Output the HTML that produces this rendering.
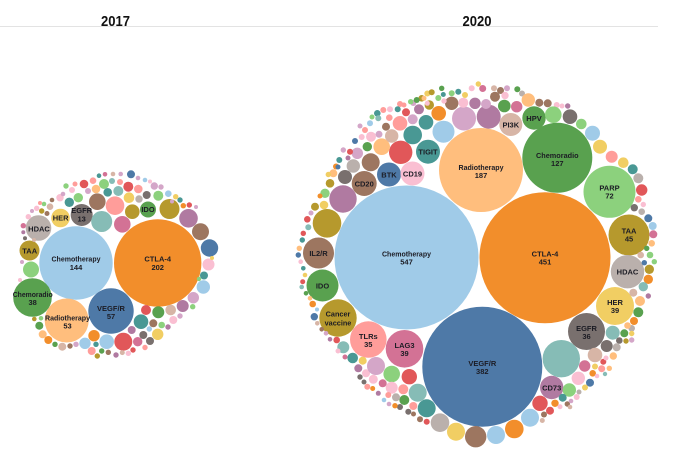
<!DOCTYPE html>
<html>
<head>
<meta charset="utf-8">
<style>
html,body{margin:0;padding:0;background:#fff;}
svg{display:block;}
.h{font-family:"Liberation Sans",Arial,sans-serif;font-weight:bold;font-size:15px;fill:#111;text-anchor:middle;}
.l{font-family:"Liberation Sans",Arial,sans-serif;font-weight:bold;font-size:7.5px;fill:#1c1c24;text-anchor:middle;}
</style>
</head>
<body>
<svg width="673" height="453" viewBox="0 0 673 453" xmlns="http://www.w3.org/2000/svg">
<rect width="673" height="453" fill="#fff"/>
<line x1="0" y1="26.5" x2="658" y2="26.5" stroke="#e3e3e3" stroke-width="1"/>
<text class="h" x="115.5" y="26" textLength="29" lengthAdjust="spacingAndGlyphs">2017</text>
<text class="h" x="477" y="26" textLength="29" lengthAdjust="spacingAndGlyphs">2020</text>

<!-- ================= 2017 ================= -->
<g>
<circle cx="76" cy="263" r="36.7" fill="#a0cbe8"/>
<circle cx="157.7" cy="263" r="43.7" fill="#f28e2b"/>
<circle cx="111" cy="311" r="22.7" fill="#4e79a7"/>
<circle cx="66.7" cy="320.5" r="22" fill="#ffbe7d"/>
<circle cx="32.5" cy="297.5" r="19.3" fill="#59a14f"/>
<circle cx="29.5" cy="250.5" r="10" fill="#b6992d"/>
<circle cx="38.5" cy="228" r="12.8" fill="#bab0ac"/>
<circle cx="60.5" cy="218" r="9.3" fill="#f1ce63"/>
<circle cx="81.7" cy="215" r="11" fill="#79706e"/>
<circle cx="148" cy="209.5" r="8" fill="#59a14f"/>
<circle cx="31" cy="269.5" r="8" fill="#8cd17d"/>
<circle cx="101.7" cy="221.5" r="10.5" fill="#86bcb6"/>
<circle cx="122.3" cy="224.3" r="8.3" fill="#d37295"/>
<circle cx="115" cy="205.7" r="9.3" fill="#ff9d9a"/>
<circle cx="97.3" cy="201.7" r="8.3" fill="#9d7660"/>
<circle cx="132.3" cy="211.7" r="7.3" fill="#b6992d"/>
<circle cx="169.5" cy="209" r="10" fill="#b6992d"/>
<circle cx="188.5" cy="218.3" r="9.3" fill="#b07aa1"/>
<circle cx="200.5" cy="231.7" r="8.5" fill="#9d7660"/>
<circle cx="209.5" cy="248" r="8.7" fill="#4e79a7"/>
<circle cx="208.5" cy="264.5" r="6" fill="#fabfd2"/>
<circle cx="204" cy="275.5" r="4" fill="#499894"/>
<circle cx="203.3" cy="287" r="6.7" fill="#a0cbe8"/>
<circle cx="193.3" cy="297.7" r="5.7" fill="#d4a6c8"/>
<circle cx="182.7" cy="306" r="6" fill="#b07aa1"/>
<circle cx="192.7" cy="306.7" r="2.7" fill="#8cd17d"/>
<circle cx="170.7" cy="310" r="5.3" fill="#d7b5a6"/>
<circle cx="158.3" cy="312.3" r="6" fill="#59a14f"/>
<circle cx="146" cy="310" r="5" fill="#e15759"/>
<circle cx="141" cy="321.7" r="7.3" fill="#499894"/>
<circle cx="153.3" cy="323.3" r="4" fill="#9d7660"/>
<circle cx="161.7" cy="325" r="3.3" fill="#8cd17d"/>
<circle cx="173.3" cy="320" r="4" fill="#fabfd2"/>
<circle cx="168" cy="327" r="2.7" fill="#b07aa1"/>
<circle cx="180" cy="316" r="2.7" fill="#d4a6c8"/>
<circle cx="149.3" cy="329" r="2.7" fill="#a0cbe8"/>
<circle cx="131.7" cy="330" r="4" fill="#b07aa1"/>
<circle cx="143.3" cy="335" r="4" fill="#79706e"/>
<circle cx="157.7" cy="334.3" r="5.7" fill="#f1ce63"/>
<circle cx="123.3" cy="341.7" r="9" fill="#e15759"/>
<circle cx="137.7" cy="341.7" r="4.7" fill="#d37295"/>
<circle cx="150" cy="341" r="4" fill="#79706e"/>
<circle cx="145" cy="347.5" r="2.7" fill="#ff9d9a"/>
<circle cx="106.7" cy="341.7" r="7.3" fill="#a0cbe8"/>
<circle cx="94" cy="335.7" r="5.7" fill="#f28e2b"/>
<circle cx="85" cy="343.3" r="5.7" fill="#a0cbe8"/>
<circle cx="96" cy="344.3" r="2.7" fill="#499894"/>
<circle cx="62.3" cy="346.7" r="4" fill="#d7b5a6"/>
<circle cx="70" cy="346" r="2.7" fill="#9d7660"/>
<circle cx="76" cy="344.3" r="2.7" fill="#d4a6c8"/>
<circle cx="55" cy="344.3" r="2.7" fill="#59a14f"/>
<circle cx="48.3" cy="340" r="4" fill="#f28e2b"/>
<circle cx="42.7" cy="334.3" r="4" fill="#ffbe7d"/>
<circle cx="39.3" cy="325.7" r="4" fill="#59a14f"/>
<circle cx="34.3" cy="319" r="2.3" fill="#b6992d"/>
<circle cx="41" cy="318.3" r="2.3" fill="#8cd17d"/>
<circle cx="91.7" cy="351" r="4" fill="#ff9d9a"/>
<circle cx="101.7" cy="351" r="2.7" fill="#59a14f"/>
<circle cx="108.3" cy="352.3" r="2.7" fill="#9d7660"/>
<circle cx="116" cy="355" r="2.7" fill="#b07aa1"/>
<circle cx="97.3" cy="356" r="2.7" fill="#b6992d"/>
<circle cx="128.3" cy="353.3" r="2.7" fill="#fabfd2"/>
<circle cx="122.3" cy="352.6" r="2.5" fill="#d7b5a6"/>
<circle cx="133" cy="350" r="2.7" fill="#e15759"/>
<!-- top -->
<circle cx="84" cy="184" r="4.3" fill="#e15759"/>
<circle cx="93" cy="180.7" r="3.3" fill="#ff9d9a"/>
<circle cx="104" cy="184" r="5" fill="#8cd17d"/>
<circle cx="118.3" cy="191" r="5" fill="#86bcb6"/>
<circle cx="128.3" cy="186.7" r="5" fill="#e15759"/>
<circle cx="138.3" cy="189" r="4.3" fill="#ff9d9a"/>
<circle cx="154.3" cy="186" r="3.7" fill="#d4a6c8"/>
<circle cx="161" cy="187" r="2.7" fill="#d4a6c8"/>
<circle cx="168.3" cy="193.7" r="3.3" fill="#a0cbe8"/>
<circle cx="158.3" cy="195.7" r="5" fill="#8cd17d"/>
<circle cx="146.7" cy="195" r="4" fill="#79706e"/>
<circle cx="96" cy="189" r="4.3" fill="#ffbe7d"/>
<circle cx="107.7" cy="192.3" r="4.3" fill="#499894"/>
<circle cx="129" cy="197.7" r="5.3" fill="#f1ce63"/>
<circle cx="139" cy="199" r="3.7" fill="#bab0ac"/>
<circle cx="180" cy="200" r="2.7" fill="#499894"/>
<circle cx="183.3" cy="205.7" r="2.7" fill="#f28e2b"/>
<circle cx="189.3" cy="205" r="2.7" fill="#e15759"/>
<circle cx="175.7" cy="196.7" r="2.7" fill="#f1ce63"/>
<circle cx="69.3" cy="202.3" r="4.7" fill="#499894"/>
<circle cx="78.3" cy="197.7" r="4.7" fill="#8cd17d"/>
<circle cx="60" cy="197.7" r="3.7" fill="#fabfd2"/>
<circle cx="50" cy="206.7" r="3.3" fill="#d7b5a6"/>
<circle cx="41.7" cy="211" r="2.7" fill="#b6992d"/>
<circle cx="47" cy="213.5" r="2.5" fill="#9d7660"/>
<circle cx="36.7" cy="208.3" r="2.7" fill="#fabfd2"/>
<circle cx="28.3" cy="216.7" r="2.7" fill="#fabfd2"/>
<circle cx="23.3" cy="225.7" r="2.7" fill="#d37295"/>
<circle cx="23.3" cy="232.3" r="2" fill="#b07aa1"/>
<circle cx="25" cy="238.3" r="2" fill="#79706e"/>
<circle cx="131" cy="174.3" r="4" fill="#4e79a7"/>
<circle cx="99" cy="175.7" r="2.3" fill="#499894"/>
<circle cx="105" cy="174.3" r="2.3" fill="#d37295"/>
<circle cx="113" cy="174" r="2.3" fill="#d7b5a6"/>
<circle cx="120.7" cy="174" r="2.3" fill="#d4a6c8"/>
<circle cx="138" cy="178" r="2.3" fill="#d4a6c8"/>
<circle cx="145" cy="180" r="2.3" fill="#a0cbe8"/>
<circle cx="150" cy="181.5" r="2" fill="#fabfd2"/>
<circle cx="112" cy="181" r="3" fill="#86bcb6"/>
<circle cx="120" cy="182" r="3" fill="#ff9d9a"/>
<circle cx="66" cy="186" r="2.7" fill="#8cd17d"/>
<circle cx="72" cy="190" r="3" fill="#fabfd2"/>
<circle cx="63" cy="194" r="2.3" fill="#d4a6c8"/>
<circle cx="88" cy="191" r="3" fill="#d4a6c8"/>
<circle cx="75" cy="184" r="2.5" fill="#ff9d9a"/>
<circle cx="52" cy="200" r="2.3" fill="#9d7660"/>
<circle cx="44" cy="204" r="2.3" fill="#8cd17d"/>
<circle cx="32" cy="211" r="2" fill="#d4a6c8"/>
<circle cx="40" cy="203" r="2" fill="#ff9d9a"/>
<circle cx="172" cy="201.5" r="2" fill="#d4a6c8"/>
<circle cx="196" cy="207" r="2" fill="#d4a6c8"/>
<circle cx="212" cy="258" r="2" fill="#f1ce63"/>
<circle cx="199" cy="279" r="2.2" fill="#8cd17d"/>
<circle cx="34" cy="240" r="2" fill="#d7b5a6"/>
<circle cx="22" cy="262" r="2" fill="#d4a6c8"/>
<circle cx="20" cy="280" r="2" fill="#fabfd2"/>
</g>
<g>
<text class="l" x="76" y="261.7" textLength="49" lengthAdjust="spacingAndGlyphs">Chemotherapy</text>
<text class="l" x="76" y="270">144</text>
<text class="l" x="157.7" y="261.7">CTLA-4</text>
<text class="l" x="157.7" y="270">202</text>
<text class="l" x="111" y="311">VEGF/R</text>
<text class="l" x="111" y="319">57</text>
<text class="l" x="67.5" y="320.6" textLength="45" lengthAdjust="spacingAndGlyphs">Radiotherapy</text>
<text class="l" x="67.5" y="328.6">53</text>
<text class="l" x="32.7" y="297" textLength="40" lengthAdjust="spacingAndGlyphs">Chemoradio</text>
<text class="l" x="32.7" y="305">38</text>
<text class="l" x="29.7" y="253.5">TAA</text>
<text class="l" x="39" y="231.3">HDAC</text>
<text class="l" x="60.7" y="220.7">HER</text>
<text class="l" x="81.7" y="213">EGFR</text>
<text class="l" x="81.7" y="221.3">13</text>
<text class="l" x="148" y="212">IDO</text>
</g>

<!-- ================= 2020 ================= -->
<g>
<circle cx="406.5" cy="257.5" r="72" fill="#a0cbe8"/>
<circle cx="545" cy="257.7" r="65.5" fill="#f28e2b"/>
<circle cx="482.3" cy="366.7" r="60" fill="#4e79a7"/>
<circle cx="481" cy="170" r="42" fill="#ffbe7d"/>
<circle cx="557.3" cy="157.8" r="35" fill="#59a14f"/>
<circle cx="609.5" cy="191.8" r="26" fill="#8cd17d"/>
<circle cx="629" cy="235" r="20.5" fill="#b6992d"/>
<circle cx="627.5" cy="271.7" r="16.7" fill="#bab0ac"/>
<circle cx="615" cy="306" r="19" fill="#f1ce63"/>
<circle cx="586.5" cy="331.5" r="18.5" fill="#79706e"/>
<circle cx="561.3" cy="358.7" r="18.7" fill="#86bcb6"/>
<circle cx="551.7" cy="387.5" r="11.7" fill="#b07aa1"/>
<circle cx="404.5" cy="348.8" r="18.8" fill="#d37295"/>
<circle cx="368.3" cy="339.5" r="18.3" fill="#ff9d9a"/>
<circle cx="338" cy="318" r="18.7" fill="#b6992d"/>
<circle cx="322.5" cy="285.5" r="16" fill="#59a14f"/>
<circle cx="318.5" cy="253" r="15.5" fill="#9d7660"/>
<circle cx="327" cy="223.3" r="14.3" fill="#b6992d"/>
<circle cx="343" cy="199" r="13.7" fill="#b07aa1"/>
<circle cx="364.2" cy="183.5" r="12.5" fill="#9d7660"/>
<circle cx="389" cy="174.5" r="12" fill="#4e79a7"/>
<circle cx="412.5" cy="173.5" r="12" fill="#fabfd2"/>
<circle cx="428" cy="151.7" r="12" fill="#499894"/>
<circle cx="400.7" cy="152.3" r="11.7" fill="#e15759"/>
<circle cx="443.5" cy="131.7" r="11" fill="#a0cbe8"/>
<circle cx="510.8" cy="124.5" r="11.5" fill="#d7b5a6"/>
<circle cx="534" cy="118" r="11.7" fill="#59a14f"/>
<circle cx="488.7" cy="116.7" r="12" fill="#b07aa1"/>
<circle cx="464" cy="118.5" r="12" fill="#d4a6c8"/>
<circle cx="412.7" cy="135" r="9.3" fill="#499894"/>
<circle cx="426" cy="122.3" r="7.3" fill="#499894"/>
<circle cx="438.7" cy="113.3" r="7.3" fill="#f28e2b"/>
<circle cx="451.7" cy="103.3" r="6.7" fill="#9d7660"/>
<circle cx="400" cy="123.3" r="7.3" fill="#ff9d9a"/>
<circle cx="412.7" cy="119.3" r="5" fill="#d4a6c8"/>
<circle cx="406" cy="112.3" r="4" fill="#e15759"/>
<circle cx="419" cy="109.3" r="5" fill="#b07aa1"/>
<circle cx="429.3" cy="105" r="4.7" fill="#b6992d"/>
<circle cx="381.7" cy="146.7" r="8.3" fill="#ffbe7d"/>
<circle cx="391.7" cy="136" r="6.7" fill="#d7b5a6"/>
<circle cx="386" cy="126.7" r="4" fill="#9d7660"/>
<circle cx="379" cy="134.3" r="3.5" fill="#d4a6c8"/>
<circle cx="371" cy="136.7" r="5" fill="#fabfd2"/>
<circle cx="367.3" cy="146.7" r="4.7" fill="#59a14f"/>
<circle cx="357.3" cy="153.3" r="5.7" fill="#d4a6c8"/>
<circle cx="370.7" cy="162.3" r="9" fill="#9d7660"/>
<circle cx="353.3" cy="166" r="6.7" fill="#bab0ac"/>
<circle cx="345" cy="177" r="7" fill="#79706e"/>
<circle cx="330" cy="183.3" r="4.3" fill="#b6992d"/>
<circle cx="333.3" cy="173.3" r="4" fill="#ffbe7d"/>
<circle cx="336" cy="166.5" r="3" fill="#f28e2b"/>
<circle cx="325" cy="193.3" r="4.7" fill="#8cd17d"/>
<circle cx="324" cy="205" r="4.3" fill="#f1ce63"/>
<circle cx="315" cy="206.7" r="4" fill="#b6992d"/>
<circle cx="307.3" cy="219.3" r="3.3" fill="#e15759"/>
<circle cx="308.3" cy="227.3" r="3" fill="#86bcb6"/>
<circle cx="303.3" cy="233.3" r="2.7" fill="#e15759"/>
<circle cx="302.3" cy="240" r="2.7" fill="#499894"/>
<circle cx="299.3" cy="248.3" r="2.7" fill="#ffbe7d"/>
<circle cx="298.3" cy="255" r="2.7" fill="#4e79a7"/>
<circle cx="300.7" cy="261.7" r="2.3" fill="#fabfd2"/>
<circle cx="303.3" cy="268.3" r="2.3" fill="#499894"/>
<circle cx="305" cy="275" r="2.3" fill="#f1ce63"/>
<circle cx="302.7" cy="281.7" r="2.5" fill="#e15759"/>
<circle cx="301.7" cy="287" r="2.3" fill="#86bcb6"/>
<circle cx="306" cy="293.3" r="2.3" fill="#59a14f"/>
<circle cx="310" cy="298.3" r="2.3" fill="#ffbe7d"/>
<circle cx="312.7" cy="304" r="3.3" fill="#f28e2b"/>
<circle cx="314.3" cy="316.7" r="3.7" fill="#4e79a7"/>
<circle cx="317" cy="309.5" r="2" fill="#a0cbe8"/>
<circle cx="317.3" cy="323.3" r="2.3" fill="#d7b5a6"/>
<circle cx="321.7" cy="329.3" r="2.3" fill="#9d7660"/>
<circle cx="326" cy="333.3" r="2.3" fill="#d4a6c8"/>
<circle cx="330" cy="339.3" r="2.3" fill="#b07aa1"/>
<circle cx="336.7" cy="340" r="3.3" fill="#e15759"/>
<circle cx="343.3" cy="347.3" r="6" fill="#86bcb6"/>
<circle cx="352.7" cy="358" r="5.3" fill="#499894"/>
<circle cx="345" cy="357" r="2.5" fill="#d37295"/>
<circle cx="338" cy="351" r="2.5" fill="#fabfd2"/>
<circle cx="362.7" cy="360.7" r="4" fill="#f1ce63"/>
<circle cx="358.3" cy="368.3" r="4" fill="#b07aa1"/>
<circle cx="366" cy="373.3" r="4" fill="#fabfd2"/>
<circle cx="360" cy="377" r="2.7" fill="#79706e"/>
<circle cx="364" cy="382" r="2.5" fill="#79706e"/>
<circle cx="367.3" cy="386.7" r="3" fill="#ff9d9a"/>
<circle cx="372.7" cy="388.5" r="2.5" fill="#f28e2b"/>
<circle cx="378.3" cy="393.3" r="2.5" fill="#b07aa1"/>
<circle cx="376" cy="366" r="9" fill="#d4a6c8"/>
<circle cx="391.7" cy="374" r="8.3" fill="#8cd17d"/>
<circle cx="409.3" cy="376.7" r="7.7" fill="#e15759"/>
<circle cx="417.7" cy="392.7" r="9" fill="#86bcb6"/>
<circle cx="426.7" cy="408.3" r="9" fill="#499894"/>
<circle cx="440" cy="422.7" r="9.3" fill="#bab0ac"/>
<circle cx="456" cy="431.7" r="9" fill="#f1ce63"/>
<circle cx="475.7" cy="436.7" r="10.7" fill="#9d7660"/>
<circle cx="496" cy="435" r="9" fill="#a0cbe8"/>
<circle cx="514.3" cy="429" r="9.3" fill="#f28e2b"/>
<circle cx="530" cy="417.7" r="9" fill="#a0cbe8"/>
<circle cx="540" cy="403.3" r="7.7" fill="#e15759"/>
<circle cx="391.7" cy="387.7" r="6" fill="#fabfd2"/>
<circle cx="403.3" cy="389.3" r="5" fill="#ff9d9a"/>
<circle cx="373.3" cy="379.3" r="4.5" fill="#fabfd2"/>
<circle cx="382.7" cy="383.3" r="4" fill="#d37295"/>
<circle cx="404.3" cy="400" r="5" fill="#59a14f"/>
<circle cx="396" cy="397.3" r="4" fill="#bab0ac"/>
<circle cx="413.3" cy="406" r="4" fill="#ff9d9a"/>
<circle cx="400" cy="407" r="3" fill="#79706e"/>
<circle cx="388.3" cy="395" r="3" fill="#ff9d9a"/>
<circle cx="395" cy="405.7" r="2.7" fill="#f28e2b"/>
<circle cx="408.3" cy="411.7" r="3" fill="#79706e"/>
<circle cx="413.5" cy="414" r="2.5" fill="#9d7660"/>
<circle cx="420" cy="419.3" r="3" fill="#9d7660"/>
<circle cx="426.7" cy="421.7" r="3" fill="#e15759"/>
<circle cx="384" cy="400" r="2.3" fill="#a0cbe8"/>
<circle cx="389" cy="404" r="2.3" fill="#d4a6c8"/>
<!-- right bottom -->
<circle cx="569.3" cy="390" r="6.7" fill="#8cd17d"/>
<circle cx="562.7" cy="397.7" r="4" fill="#499894"/>
<circle cx="555" cy="403.3" r="3.7" fill="#f28e2b"/>
<circle cx="560" cy="406.7" r="2.5" fill="#fabfd2"/>
<circle cx="567.3" cy="404" r="2.7" fill="#9d7660"/>
<circle cx="550" cy="410.7" r="4" fill="#e15759"/>
<circle cx="544" cy="414.5" r="3" fill="#9d7660"/>
<circle cx="542.3" cy="420.5" r="2.5" fill="#d7b5a6"/>
<circle cx="578.3" cy="378.3" r="6.7" fill="#fabfd2"/>
<circle cx="584.7" cy="366" r="5.7" fill="#d37295"/>
<circle cx="595" cy="355" r="7.3" fill="#d7b5a6"/>
<circle cx="606.7" cy="346" r="6" fill="#79706e"/>
<circle cx="612.7" cy="332.7" r="7" fill="#86bcb6"/>
<circle cx="592.7" cy="373.3" r="3.3" fill="#f28e2b"/>
<circle cx="590" cy="382.7" r="4" fill="#4e79a7"/>
<circle cx="601.7" cy="368.7" r="3.5" fill="#ff9d9a"/>
<circle cx="603.3" cy="361.7" r="3" fill="#e15759"/>
<circle cx="609.3" cy="368.3" r="2.7" fill="#ffbe7d"/>
<circle cx="595" cy="366.5" r="3" fill="#f1ce63"/>
<circle cx="585" cy="387.5" r="3" fill="#f1ce63"/>
<circle cx="579" cy="392" r="2.5" fill="#bab0ac"/>
<circle cx="576.7" cy="397" r="3" fill="#fabfd2"/>
<circle cx="571" cy="401" r="2.3" fill="#d4a6c8"/>
<circle cx="570" cy="407" r="2.3" fill="#d7b5a6"/>
<circle cx="597" cy="376" r="2.3" fill="#fabfd2"/>
<circle cx="605" cy="374" r="2.2" fill="#86bcb6"/>
<!-- right side -->
<circle cx="600" cy="146.7" r="7" fill="#f1ce63"/>
<circle cx="611.7" cy="156.7" r="6" fill="#ff9d9a"/>
<circle cx="623.3" cy="162.7" r="5.3" fill="#f1ce63"/>
<circle cx="632.7" cy="169.3" r="5" fill="#499894"/>
<circle cx="638.3" cy="178.3" r="5" fill="#bab0ac"/>
<circle cx="641.7" cy="190" r="5.7" fill="#e15759"/>
<circle cx="638.3" cy="199.3" r="3.3" fill="#ff9d9a"/>
<circle cx="643.3" cy="204.5" r="2.7" fill="#fabfd2"/>
<circle cx="634.3" cy="207.7" r="3.7" fill="#79706e"/>
<circle cx="641.7" cy="211.7" r="3.3" fill="#bab0ac"/>
<circle cx="648.3" cy="218.3" r="4" fill="#4e79a7"/>
<circle cx="652.7" cy="226" r="4" fill="#a0cbe8"/>
<circle cx="653.3" cy="234.3" r="4" fill="#d37295"/>
<circle cx="651.7" cy="243.3" r="3.3" fill="#ffbe7d"/>
<circle cx="646.7" cy="248.3" r="2.7" fill="#59a14f"/>
<circle cx="650" cy="255" r="3.3" fill="#8cd17d"/>
<circle cx="654.3" cy="261.7" r="2.7" fill="#8cd17d"/>
<circle cx="640.7" cy="255" r="3.3" fill="#d7b5a6"/>
<circle cx="644.3" cy="262.7" r="2.7" fill="#4e79a7"/>
<circle cx="649.3" cy="269.3" r="4.7" fill="#b6992d"/>
<circle cx="648.3" cy="279.3" r="4.7" fill="#f28e2b"/>
<circle cx="643.3" cy="286.7" r="4.7" fill="#86bcb6"/>
<circle cx="648.3" cy="296" r="2.7" fill="#b07aa1"/>
<circle cx="633.3" cy="292.7" r="4" fill="#d7b5a6"/>
<circle cx="640" cy="301" r="5" fill="#ffbe7d"/>
<circle cx="638.3" cy="312.3" r="5" fill="#59a14f"/>
<circle cx="634" cy="321" r="4" fill="#f28e2b"/>
<circle cx="631.7" cy="328.3" r="3.3" fill="#bab0ac"/>
<circle cx="631.7" cy="333.5" r="2.7" fill="#f1ce63"/>
<circle cx="631.7" cy="340" r="2.7" fill="#d4a6c8"/>
<circle cx="624.3" cy="333.3" r="4" fill="#59a14f"/>
<circle cx="627.5" cy="325.5" r="3.3" fill="#ffbe7d"/>
<circle cx="626" cy="341" r="2.7" fill="#b6992d"/>
<circle cx="619.3" cy="340.5" r="3.3" fill="#79706e"/>
<circle cx="616.7" cy="347.3" r="4" fill="#bab0ac"/>
<circle cx="613.3" cy="356" r="3.7" fill="#ffbe7d"/>
<circle cx="606" cy="358" r="2.5" fill="#fabfd2"/>
<!-- top -->
<circle cx="478.3" cy="84" r="2.7" fill="#f1ce63"/>
<circle cx="471.7" cy="88.3" r="3" fill="#fabfd2"/>
<circle cx="482.7" cy="88.5" r="3.5" fill="#d37295"/>
<circle cx="494" cy="88.3" r="3" fill="#d7b5a6"/>
<circle cx="500.5" cy="90.5" r="3.5" fill="#9d7660"/>
<circle cx="507" cy="88.3" r="3" fill="#d4a6c8"/>
<circle cx="517.3" cy="89.3" r="3" fill="#59a14f"/>
<circle cx="522" cy="93.5" r="3" fill="#bab0ac"/>
<circle cx="441.7" cy="88.3" r="2.7" fill="#59a14f"/>
<circle cx="451.7" cy="93.3" r="3" fill="#8cd17d"/>
<circle cx="458.3" cy="91.7" r="3" fill="#499894"/>
<circle cx="465" cy="95" r="3" fill="#f1ce63"/>
<circle cx="463.3" cy="102.7" r="5" fill="#fabfd2"/>
<circle cx="475" cy="103.3" r="5.7" fill="#b07aa1"/>
<circle cx="486" cy="104" r="5" fill="#d4a6c8"/>
<circle cx="495" cy="96.7" r="5" fill="#9d7660"/>
<circle cx="505" cy="95.5" r="3.7" fill="#fabfd2"/>
<circle cx="504.3" cy="106" r="6.3" fill="#59a14f"/>
<circle cx="516.7" cy="106.7" r="5.7" fill="#d37295"/>
<circle cx="528.3" cy="100" r="6.7" fill="#ffbe7d"/>
<circle cx="539.3" cy="102.7" r="4" fill="#9d7660"/>
<circle cx="547.7" cy="103.3" r="4" fill="#9d7660"/>
<circle cx="556.7" cy="105" r="3" fill="#fabfd2"/>
<circle cx="562" cy="106" r="2.5" fill="#fabfd2"/>
<circle cx="567.7" cy="106" r="2.7" fill="#b07aa1"/>
<circle cx="553.3" cy="114.7" r="8.3" fill="#8cd17d"/>
<circle cx="570" cy="116.7" r="7.3" fill="#79706e"/>
<circle cx="581.3" cy="124" r="5.3" fill="#8cd17d"/>
<circle cx="592.5" cy="133.2" r="7.5" fill="#a0cbe8"/>
<circle cx="427.3" cy="93.5" r="3" fill="#f1ce63"/>
<circle cx="421.7" cy="98.3" r="3.3" fill="#b6992d"/>
<circle cx="427.3" cy="103.3" r="2.5" fill="#fabfd2"/>
<circle cx="413.3" cy="103" r="3" fill="#d4a6c8"/>
<circle cx="400" cy="104" r="3" fill="#ff9d9a"/>
<circle cx="390" cy="109.3" r="3" fill="#fabfd2"/>
<circle cx="383.3" cy="110" r="3" fill="#ff9d9a"/>
<circle cx="377.3" cy="113.3" r="3.3" fill="#499894"/>
<circle cx="370" cy="123.3" r="3" fill="#a0cbe8"/>
<circle cx="365" cy="130" r="3" fill="#ff9d9a"/>
<circle cx="361.7" cy="137" r="3" fill="#fabfd2"/>
<circle cx="355" cy="141" r="3" fill="#4e79a7"/>
<circle cx="350" cy="151.7" r="3" fill="#e15759"/>
<circle cx="343.3" cy="150" r="2.7" fill="#d4a6c8"/>
<circle cx="339.3" cy="160" r="3" fill="#499894"/>
<circle cx="348" cy="158" r="2.5" fill="#b07aa1"/>
<circle cx="328.3" cy="174.5" r="2.7" fill="#f1ce63"/>
<circle cx="378.3" cy="118.3" r="3" fill="#86bcb6"/>
<circle cx="389.3" cy="117.7" r="3.3" fill="#ff9d9a"/>
<circle cx="397.7" cy="109.3" r="3" fill="#499894"/>
<circle cx="404" cy="105" r="2.5" fill="#ff9d9a"/>
<circle cx="410.7" cy="101.7" r="2.7" fill="#8cd17d"/>
<circle cx="416.7" cy="100" r="3" fill="#59a14f"/>
<circle cx="424" cy="98.3" r="2.5" fill="#ffbe7d"/>
<circle cx="431.7" cy="92.3" r="3" fill="#b6992d"/>
<circle cx="443.3" cy="94.5" r="2.5" fill="#499894"/>
<circle cx="438.3" cy="98" r="3" fill="#8cd17d"/>
<circle cx="444" cy="101" r="2.7" fill="#fabfd2"/>
<circle cx="372" cy="117" r="2.5" fill="#8cd17d"/>
<circle cx="360" cy="126" r="2.5" fill="#d4a6c8"/>
<circle cx="338" cy="167" r="2.5" fill="#4e79a7"/>
<circle cx="320" cy="196" r="2.5" fill="#f28e2b"/>
<circle cx="311" cy="213" r="2.5" fill="#d4a6c8"/>
</g>
<g>
<text class="l" x="406.5" y="256.5" textLength="49" lengthAdjust="spacingAndGlyphs">Chemotherapy</text>
<text class="l" x="406.5" y="264.5">547</text>
<text class="l" x="545" y="256.5">CTLA-4</text>
<text class="l" x="545" y="264.5">451</text>
<text class="l" x="482.3" y="366">VEGF/R</text>
<text class="l" x="482.3" y="374">382</text>
<text class="l" x="481" y="170" textLength="45" lengthAdjust="spacingAndGlyphs">Radiotherapy</text>
<text class="l" x="481" y="178">187</text>
<text class="l" x="557.3" y="157.8" textLength="42.5" lengthAdjust="spacingAndGlyphs">Chemoradio</text>
<text class="l" x="557.3" y="165.8">127</text>
<text class="l" x="609.5" y="190.5">PARP</text>
<text class="l" x="609.5" y="198.5">72</text>
<text class="l" x="629" y="233.5">TAA</text>
<text class="l" x="629" y="241.5">45</text>
<text class="l" x="627.5" y="274.5">HDAC</text>
<text class="l" x="615" y="305">HER</text>
<text class="l" x="615" y="313">39</text>
<text class="l" x="586.5" y="331">EGFR</text>
<text class="l" x="586.5" y="339">36</text>
<text class="l" x="551.7" y="390.3">CD73</text>
<text class="l" x="404.5" y="348">LAG3</text>
<text class="l" x="404.5" y="356">39</text>
<text class="l" x="368.3" y="339">TLRs</text>
<text class="l" x="368.3" y="347">35</text>
<text class="l" x="338" y="316.3" textLength="24.7" lengthAdjust="spacingAndGlyphs">Cancer</text>
<text class="l" x="338" y="325.3" textLength="26.7" lengthAdjust="spacingAndGlyphs">vaccine</text>
<text class="l" x="322.5" y="288.3">IDO</text>
<text class="l" x="318.5" y="255.8">IL2/R</text>
<text class="l" x="364.2" y="186.3">CD20</text>
<text class="l" x="389" y="177.3">BTK</text>
<text class="l" x="412.5" y="176.3">CD19</text>
<text class="l" x="428" y="154.5">TIGIT</text>
<text class="l" x="510.8" y="127.3">PI3K</text>
<text class="l" x="534" y="120.8">HPV</text>
</g>
</svg>
</body>
</html>
